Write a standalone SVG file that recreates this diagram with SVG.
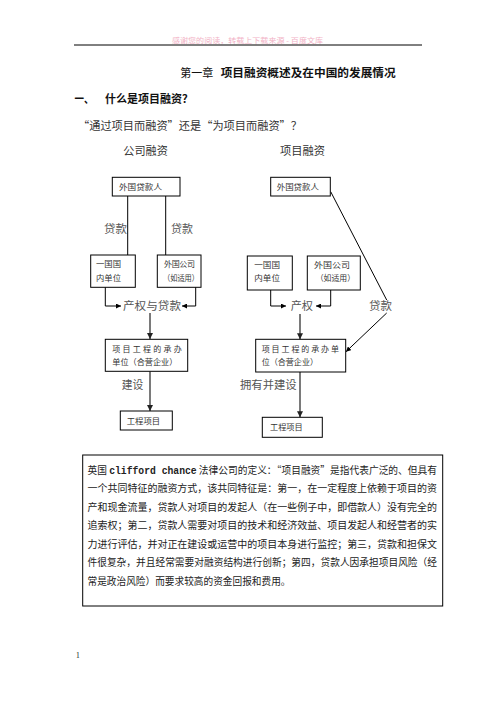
<svg xmlns="http://www.w3.org/2000/svg" width="496" height="702" viewBox="0 0 496 702">
<style>
text{font-family:"Noto Sans CJK SC","Noto Sans",sans-serif;fill:#111}
.box{fill:#fff;stroke:#000;stroke-width:1}
.bt{font-size:8px;fill:#333}
.lab{font-size:11.3px;fill:#555}
.ln{fill:none;stroke:#000;stroke-width:1}
.gl{fill:none;stroke:#7a7a7a;stroke-width:2}
.body{font-size:10px;fill:#222}
.mono{font-family:"Liberation Mono",monospace;font-weight:bold}
</style>
<defs>
<marker id="ah" viewBox="0 0 10 10" refX="10" refY="5" markerWidth="5" markerHeight="5" markerUnits="userSpaceOnUse" orient="auto">
<path d="M0,0 L10,5 L0,10 z" fill="#000"/>
</marker>
<marker id="ahg" viewBox="0 0 10 10" refX="10" refY="5" markerWidth="6" markerHeight="6" markerUnits="userSpaceOnUse" orient="auto">
<path d="M0,0 L10,5 L0,10 z" fill="#222"/>
</marker>
</defs>
<rect width="496" height="702" fill="#fff"/>

<g id="header">
<text x="172" y="43" font-size="7" style="fill:#f2b3c6" textLength="151" lengthAdjust="spacingAndGlyphs">感谢您的阅读，转载上下载来源 - 百度文库</text>
<line x1="74" y1="45" x2="422" y2="45" stroke="#000" stroke-width="1"/>
</g>

<g id="titles">
<text x="180.3" y="77" font-size="11" textLength="33" lengthAdjust="spacingAndGlyphs">第一章</text>
<text x="220.7" y="77" font-size="11.5" font-weight="bold" textLength="175" lengthAdjust="spacingAndGlyphs">项目融资概述及在中国的发展情况</text>
<text x="74.5" y="103" font-size="11" font-weight="bold" textLength="19" lengthAdjust="spacingAndGlyphs">一、</text>
<text x="105" y="103" font-size="11" font-weight="bold" textLength="88" lengthAdjust="spacingAndGlyphs">什么是项目融资？</text>
<text x="78" y="129.5" font-size="11.3" style="fill:#333" textLength="224" lengthAdjust="spacingAndGlyphs">“通过项目而融资”还是“为项目而融资”？</text>
<text x="123.3" y="155" font-size="11.2" style="fill:#333" textLength="44.5" lengthAdjust="spacingAndGlyphs">公司融资</text>
<text x="280" y="155" font-size="11.2" style="fill:#333" textLength="45" lengthAdjust="spacingAndGlyphs">项目融资</text>
</g>

<g id="connectors">
<line class="ln" x1="127.7" y1="196" x2="127.7" y2="255"/>
<line class="ln" x1="165.7" y1="196" x2="165.7" y2="255"/>
<path class="ln" d="M105.3,287 V306 H121" marker-end="url(#ah)"/>
<path class="ln" d="M195.7,287 V306 H182" marker-end="url(#ah)"/>
<line class="gl" x1="150" y1="313" x2="150" y2="339" marker-end="url(#ahg)"/>
<line class="gl" x1="150" y1="371.3" x2="150" y2="411" marker-end="url(#ahg)"/>
<path class="ln" d="M270.7,290 V306 H286" marker-end="url(#ah)"/>
<path class="ln" d="M330.7,290 V306 H316" marker-end="url(#ah)"/>
<line class="gl" x1="300" y1="314" x2="300" y2="339.3" marker-end="url(#ahg)"/>
<line class="gl" x1="300" y1="372" x2="300" y2="417.3" marker-end="url(#ahg)"/>
<path class="ln" d="M330.7,191.7 L386.7,300 M386.7,313 L346,351.7" marker-end="url(#ah)"/>
</g>

<g id="labels">
<text class="lab" x="104" y="233" textLength="23" lengthAdjust="spacingAndGlyphs">贷款</text>
<text class="lab" x="171" y="233" textLength="22" lengthAdjust="spacingAndGlyphs">贷款</text>
<text class="lab" x="123" y="310" textLength="58" lengthAdjust="spacingAndGlyphs">产权与贷款</text>
<text class="lab" x="121.7" y="389.3" textLength="21.6" lengthAdjust="spacingAndGlyphs">建设</text>
<text class="lab" x="290.7" y="310" textLength="22.3" lengthAdjust="spacingAndGlyphs">产权</text>
<text class="lab" x="369" y="310" textLength="23" lengthAdjust="spacingAndGlyphs">贷款</text>
<text class="lab" x="240" y="389" textLength="56.7" lengthAdjust="spacingAndGlyphs">拥有并建设</text>
</g>

<g id="lenderL">
<rect class="box" x="112.3" y="177.3" width="67.7" height="18.7"/>
<text class="bt" x="119" y="189.7" textLength="43" lengthAdjust="spacingAndGlyphs">外国贷款人</text>
</g>
<g id="domesticL">
<rect class="box" x="90.7" y="255" width="44.6" height="32.3"/>
<text class="bt" x="96" y="267" textLength="25" lengthAdjust="spacingAndGlyphs">一国国</text>
<text class="bt" x="96" y="281" textLength="25" lengthAdjust="spacingAndGlyphs">内单位</text>
</g>
<g id="foreignL">
<rect class="box" x="157.3" y="255" width="43.7" height="32.3"/>
<text class="bt" x="164" y="267" textLength="31" lengthAdjust="spacing">外国公司</text>
<text class="bt" x="163" y="281" textLength="36" lengthAdjust="spacingAndGlyphs">（如适用）</text>
</g>
<g id="projcoL">
<rect class="box" x="105.3" y="339.3" width="82.4" height="32"/>
<text class="bt" x="112.3" y="352.3" textLength="69.5" lengthAdjust="spacing">项目工程的承办</text>
<text class="bt" x="112.3" y="364.7" textLength="65" lengthAdjust="spacingAndGlyphs">单位（合营企业）</text>
</g>
<g id="projectL">
<rect class="box" x="120.3" y="411" width="52" height="19"/>
<text class="bt" x="126.7" y="423.5" textLength="33.5" lengthAdjust="spacingAndGlyphs">工程项目</text>
</g>

<g id="lenderR">
<rect class="box" x="270.7" y="177.3" width="59.6" height="18.7"/>
<text class="bt" x="276.7" y="189.7" textLength="42.3" lengthAdjust="spacingAndGlyphs">外国贷款人</text>
</g>
<g id="domesticR">
<rect class="box" x="247.3" y="256" width="45" height="34"/>
<text class="bt" x="254.3" y="268.3" textLength="25.7" lengthAdjust="spacingAndGlyphs">一国国</text>
<text class="bt" x="254.3" y="281.3" textLength="25.7" lengthAdjust="spacingAndGlyphs">内单位</text>
</g>
<g id="foreignR">
<rect class="box" x="307.3" y="256" width="53" height="34"/>
<text class="bt" x="314" y="268.3" textLength="36" lengthAdjust="spacingAndGlyphs">外国公司</text>
<text class="bt" x="315.7" y="281.3" textLength="39.3" lengthAdjust="spacingAndGlyphs">（如适用）</text>
</g>
<g id="projcoR">
<rect class="box" x="255.7" y="339.3" width="90" height="32.7"/>
<text class="bt" x="261.7" y="352.3" textLength="77.3" lengthAdjust="spacing">项目工程的承办单</text>
<text class="bt" x="261.7" y="364.7" textLength="56.3" lengthAdjust="spacingAndGlyphs">位（合营企业）</text>
</g>
<g id="projectR">
<rect class="box" x="262.3" y="417.3" width="60" height="20"/>
<text class="bt" x="270" y="430" textLength="32.7" lengthAdjust="spacingAndGlyphs">工程项目</text>
</g>

<g id="definition">
<rect class="box" x="82.7" y="455" width="360" height="151"/>
<text class="body" x="87.5" y="473.5" textLength="349.5" lengthAdjust="spacingAndGlyphs">英国 <tspan class="mono">clifford chance</tspan> 法律公司的定义：“项目融资”是指代表广泛的、但具有</text>
<text class="body" x="87.5" y="492" textLength="349.5" lengthAdjust="spacingAndGlyphs">一个共同特征的融资方式，该共同特征是：第一，在一定程度上依赖于项目的资</text>
<text class="body" x="87.5" y="510.5" textLength="349.5" lengthAdjust="spacingAndGlyphs">产和现金流量，贷款人对项目的发起人（在一些例子中，即借款人）没有完全的</text>
<text class="body" x="87.5" y="529" textLength="349.5" lengthAdjust="spacingAndGlyphs">追索权；第二，贷款人需要对项目的技术和经济效益、项目发起人和经营者的实</text>
<text class="body" x="87.5" y="547.5" textLength="349.5" lengthAdjust="spacingAndGlyphs">力进行评估，并对正在建设或运营中的项目本身进行监控；第三，贷款和担保文</text>
<text class="body" x="87.5" y="566" textLength="349.5" lengthAdjust="spacingAndGlyphs">件很复杂，并且经常需要对融资结构进行创新；第四，贷款人因承担项目风险（经</text>
<text class="body" x="87.5" y="584.5" textLength="203" lengthAdjust="spacingAndGlyphs">常是政治风险）而要求较高的资金回报和费用。</text>
</g>

<g id="footer">
<text x="76" y="658" font-size="7.5" style="font-family:'Liberation Serif',serif">1</text>
</g>
</svg>
